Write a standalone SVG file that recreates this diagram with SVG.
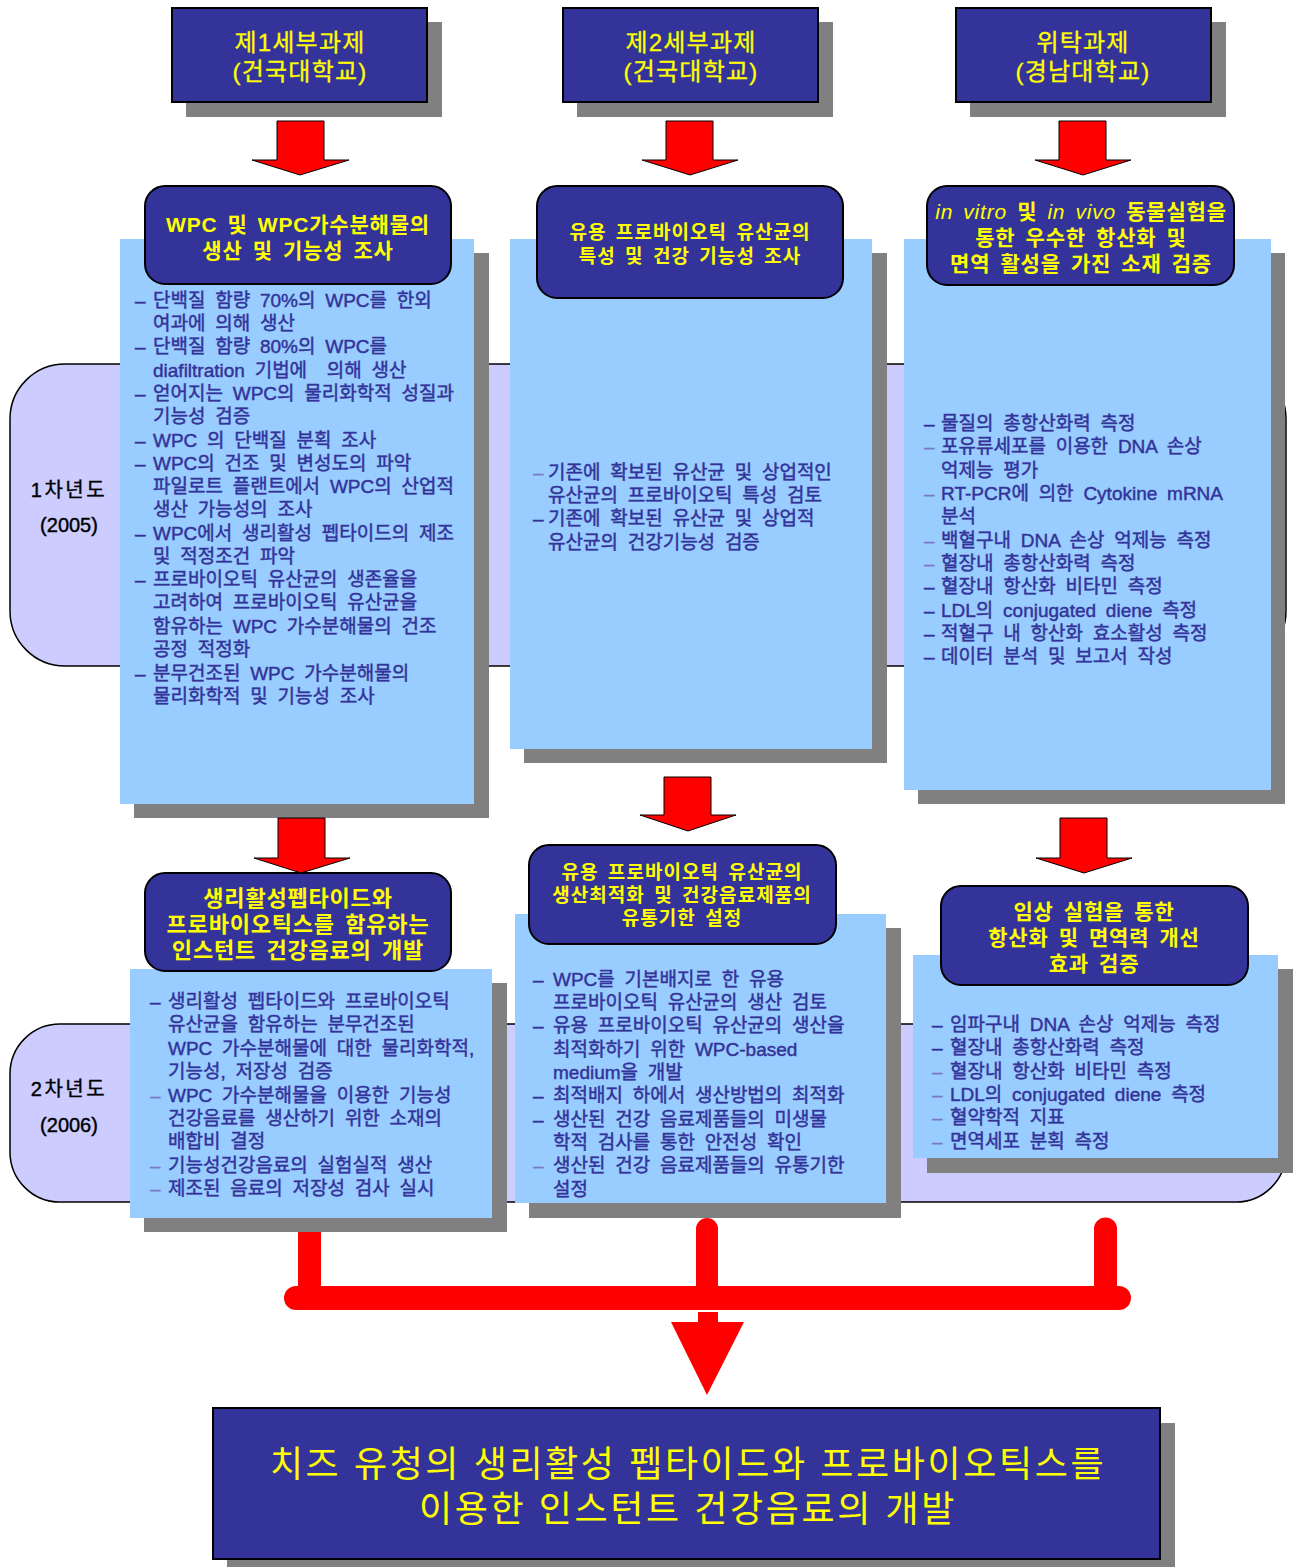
<svg xmlns="http://www.w3.org/2000/svg" width="1295" height="1568" viewBox="0 0 1295 1568">
<style>
text { font-family: "Liberation Sans", "Noto Sans CJK KR", sans-serif; }
.bg { fill: #FFFFFF; }
.band { fill: #CCCCFF; stroke: #000; stroke-width: 1.5; }
.sh { fill: #808080; }
.lb { fill: #99CCFF; }
.hdr { fill: #333399; stroke: #000; stroke-width: 2; }
.rb { fill: #333399; stroke: #000; stroke-width: 2; }
.arr { fill: #FF0000; stroke: #000; stroke-width: 1; }
.red { fill: #FF0000; }
.yt { fill: #FFFF00; text-anchor: middle; }
.h23 { font-size: 24px; letter-spacing: 1.2px; stroke: #FFFF00; stroke-width: 0.3; }
.s21 { font-size: 21px; font-weight: bold; letter-spacing: 0.8px; word-spacing: 3.5px; }
.s22 { font-size: 22px; }
.s19 { font-size: 19px; font-weight: bold; letter-spacing: 1.05px; word-spacing: 3px; }
.ct { fill: #333399; font-size: 19px; word-spacing: 4.5px; stroke: #333399; stroke-width: 0.45; }
.ld { fill: #7a7ac4; stroke: #7a7ac4; stroke-width: 0.2; }
.yr { fill: #000; font-size: 20px; text-anchor: middle; stroke: #000; stroke-width: 0.4; }
.yk { letter-spacing: 2.5px; }
.fin { font-size: 36px; letter-spacing: 2.6px; }
</style>
<rect class="bg" x="0" y="0" width="1295" height="1568"/>

<g id="year1">
  <rect class="band" x="10" y="364" width="1276" height="302" rx="55" ry="55"/>
  <text class="yr yk" x="69" y="497">1차년도</text>
  <text class="yr" x="69" y="532">(2005)</text>
</g>
<g id="year2">
  <rect class="band" x="10" y="1024" width="1276" height="178" rx="50" ry="50"/>
  <text class="yr yk" x="69" y="1096">2차년도</text>
  <text class="yr" x="69" y="1132">(2006)</text>
</g>

<g id="hdr1">
  <rect class="sh" x="186" y="22" width="256" height="95"/>
  <rect class="hdr" x="172" y="8" width="255" height="94"/>
  <text class="yt h23" x="300" y="51">제1세부과제</text>
  <text class="yt h23" x="300" y="80">(건국대학교)</text>
</g>
<g id="hdr2">
  <rect class="sh" x="577" y="22" width="256" height="95"/>
  <rect class="hdr" x="563" y="8" width="255" height="94"/>
  <text class="yt h23" x="691" y="51">제2세부과제</text>
  <text class="yt h23" x="691" y="80">(건국대학교)</text>
</g>
<g id="hdr3">
  <rect class="sh" x="970" y="22" width="256" height="95"/>
  <rect class="hdr" x="956" y="8" width="255" height="94"/>
  <text class="yt h23" x="1083" y="51">위탁과제</text>
  <text class="yt h23" x="1083" y="80">(경남대학교)</text>
</g>

<g id="task1-y1">
  <rect class="sh" x="134" y="253" width="355" height="565"/>
  <rect class="lb" x="120" y="239" width="354" height="565"/>
  <rect class="rb" x="145" y="186" width="306" height="98" rx="20" ry="20"/>
  <text class="yt s21" x="298" y="232">WPC 및 WPC가수분해물의</text>
  <text class="yt s21" x="298" y="258">생산 및 기능성 조사</text>
  <g class="ct">
    <text x="135" y="307">–</text><text x="153" y="307">단백질 함량 70%의 WPC를 한외</text>
    <text x="153" y="330">여과에 의해 생산</text>
    <text x="135" y="353">–</text><text x="153" y="353">단백질 함량 80%의 WPC를</text>
    <text x="153" y="377" xml:space="preserve">diafiltration 기법에  의해 생산</text>
    <text x="135" y="400">–</text><text x="153" y="400">얻어지는 WPC의 물리화학적 성질과</text>
    <text x="153" y="423">기능성 검증</text>
    <text x="135" y="447">–</text><text x="153" y="447">WPC 의 단백질 분획 조사</text>
    <text x="135" y="470">–</text><text x="153" y="470">WPC의 건조 및 변성도의 파악</text>
    <text x="153" y="493">파일로트 플랜트에서 WPC의 산업적</text>
    <text x="153" y="516">생산 가능성의 조사</text>
    <text x="135" y="540">–</text><text x="153" y="540">WPC에서 생리활성 펩타이드의 제조</text>
    <text x="153" y="563">및 적정조건 파악</text>
    <text x="135" y="586">–</text><text x="153" y="586">프로바이오틱 유산균의 생존율을</text>
    <text x="153" y="609">고려하여 프로바이오틱 유산균을</text>
    <text x="153" y="633">함유하는 WPC 가수분해물의 건조</text>
    <text x="153" y="656">공정 적정화</text>
    <text x="135" y="680">–</text><text x="153" y="680">분무건조된 WPC 가수분해물의</text>
    <text x="153" y="703">물리화학적 및 기능성 조사</text>
  </g>
</g>

<g id="task2-y1">
  <rect class="sh" x="524" y="253" width="363" height="510"/>
  <rect class="lb" x="510" y="239" width="362" height="510"/>
  <rect class="rb" x="537" y="186" width="306" height="112" rx="20" ry="20"/>
  <text class="yt s19" x="690" y="239">유용 프로바이오틱 유산균의</text>
  <text class="yt s19" x="690" y="263">특성 및 건강 기능성 조사</text>
  <g class="ct">
    <text class="ld" x="533" y="479">–</text><text x="548" y="479">기존에 확보된 유산균 및 상업적인</text>
    <text x="548" y="502">유산균의 프로바이오틱 특성 검토</text>
    <text x="533" y="525">–</text><text x="548" y="525">기존에 확보된 유산균 및 상업적</text>
    <text x="548" y="549">유산균의 건강기능성 검증</text>
  </g>
</g>

<g id="task3-y1">
  <rect class="sh" x="918" y="253" width="367" height="551"/>
  <rect class="lb" x="904" y="239" width="367" height="551"/>
  <rect class="rb" x="927" y="186" width="307" height="99" rx="20" ry="20"/>
  <text class="yt s21" x="1081" y="219"><tspan font-style="italic" font-weight="normal">in vitro</tspan> 및  <tspan font-style="italic" font-weight="normal">in vivo</tspan> 동물실험을</text>
  <text class="yt s21" x="1081" y="245">통한 우수한 항산화 및</text>
  <text class="yt s21" x="1081" y="271">면역 활성을 가진 소재 검증</text>
  <g class="ct">
    <text x="924" y="430">–</text><text x="941" y="430">물질의 총항산화력 측정</text>
    <text class="ld" x="924" y="453">–</text><text x="941" y="453">포유류세포를 이용한 DNA 손상</text>
    <text x="941" y="477">억제능 평가</text>
    <text class="ld" x="924" y="500">–</text><text x="941" y="500">RT-PCR에 의한 Cytokine mRNA</text>
    <text x="941" y="523">분석</text>
    <text class="ld" x="924" y="547">–</text><text x="941" y="547">백혈구내 DNA 손상 억제능 측정</text>
    <text class="ld" x="924" y="570">–</text><text x="941" y="570">혈장내 총항산화력 측정</text>
    <text x="924" y="593">–</text><text x="941" y="593">혈장내 항산화 비타민 측정</text>
    <text x="924" y="617">–</text><text x="941" y="617">LDL의 conjugated diene 측정</text>
    <text x="924" y="640">–</text><text x="941" y="640">적혈구 내 항산화 효소활성 측정</text>
    <text x="924" y="663">–</text><text x="941" y="663">데이터 분석 및 보고서 작성</text>
  </g>
</g>

<g id="task1-y2">
  <rect class="sh" x="144" y="983" width="363" height="249"/>
  <rect class="lb" x="130" y="969" width="362" height="249"/>
  <rect class="rb" x="145" y="873" width="306" height="98" rx="20" ry="20"/>
  <text class="yt s21 s22" x="298" y="906">생리활성펩타이드와</text>
  <text class="yt s21 s22" x="298" y="932">프로바이오틱스를 함유하는</text>
  <text class="yt s21 s22" x="298" y="958">인스턴트 건강음료의 개발</text>
  <g class="ct">
    <text x="150" y="1008">–</text><text x="168" y="1008">생리활성 펩타이드와 프로바이오틱</text>
    <text x="168" y="1031">유산균을 함유하는 분무건조된</text>
    <text x="168" y="1055">WPC 가수분해물에 대한 물리화학적,</text>
    <text x="168" y="1078">기능성, 저장성 검증</text>
    <text class="ld" x="150" y="1102">–</text><text x="168" y="1102">WPC 가수분해물을 이용한 기능성</text>
    <text x="168" y="1125">건강음료를 생산하기 위한 소재의</text>
    <text x="168" y="1148">배합비 결정</text>
    <text class="ld" x="150" y="1172">–</text><text x="168" y="1172">기능성건강음료의 실험실적 생산</text>
    <text class="ld" x="150" y="1195">–</text><text x="168" y="1195">제조된 음료의 저장성 검사 실시</text>
  </g>
</g>

<g id="task2-y2">
  <rect class="sh" x="529" y="928" width="372" height="290"/>
  <rect class="lb" x="515" y="914" width="371" height="289"/>
  <rect class="rb" x="529" y="845" width="307" height="99" rx="20" ry="20"/>
  <text class="yt s19" x="682" y="879">유용 프로바이오틱 유산균의</text>
  <text class="yt s19" x="682" y="902">생산최적화 및 건강음료제품의</text>
  <text class="yt s19" x="682" y="925">유통기한 설정</text>
  <g class="ct">
    <text x="533" y="986">–</text><text x="553" y="986">WPC를 기본배지로 한 유용</text>
    <text x="553" y="1009">프로바이오틱 유산균의 생산 검토</text>
    <text x="533" y="1032">–</text><text x="553" y="1032">유용 프로바이오틱 유산균의 생산을</text>
    <text x="553" y="1056">최적화하기 위한 WPC-based</text>
    <text x="553" y="1079">medium을 개발</text>
    <text x="533" y="1102">–</text><text x="553" y="1102">최적배지 하에서 생산방법의 최적화</text>
    <text x="533" y="1126">–</text><text x="553" y="1126">생산된 건강 음료제품들의 미생물</text>
    <text x="553" y="1149">학적 검사를 통한 안전성 확인</text>
    <text class="ld" x="533" y="1172">–</text><text x="553" y="1172">생산된 건강 음료제품들의 유통기한</text>
    <text x="553" y="1196">설정</text>
  </g>
</g>

<g id="task3-y2">
  <rect class="sh" x="927" y="969" width="366" height="204"/>
  <rect class="lb" x="913" y="955" width="365" height="203"/>
  <rect class="rb" x="941" y="886" width="307" height="99" rx="20" ry="20"/>
  <text class="yt s21" x="1094" y="919">임상 실험을 통한</text>
  <text class="yt s21" x="1094" y="945">항산화 및 면역력 개선</text>
  <text class="yt s21" x="1094" y="971">효과 검증</text>
  <g class="ct">
    <text x="932" y="1031">–</text><text x="950" y="1031">임파구내 DNA 손상 억제능 측정</text>
    <text x="932" y="1054">–</text><text x="950" y="1054">혈장내 총항산화력 측정</text>
    <text class="ld" x="932" y="1078">–</text><text x="950" y="1078">혈장내 항산화 비타민 측정</text>
    <text class="ld" x="932" y="1101">–</text><text x="950" y="1101">LDL의 conjugated diene 측정</text>
    <text class="ld" x="932" y="1124">–</text><text x="950" y="1124">혈약학적 지표</text>
    <text class="ld" x="932" y="1148">–</text><text x="950" y="1148">면역세포 분획 측정</text>
  </g>
</g>

<g id="final">
  <rect class="sh" x="227" y="1423" width="948" height="144"/>
  <rect class="hdr" x="213" y="1408" width="947" height="151"/>
  <text class="yt fin" x="688" y="1477">치즈 유청의 생리활성 펩타이드와 프로바이오틱스를</text>
  <text class="yt fin" x="688" y="1522">이용한 인스턴트 건강음료의 개발</text>
</g>

<g id="connectors">
  <polygon class="arr" points="277,121 324,121 324,160 349,160 300,175 252,160 277,160"/>
  <polygon class="arr" points="666,121 713,121 713,160 738,160 690,175 642,160 666,160"/>
  <polygon class="arr" points="1059,121 1106,121 1106,160 1131,160 1083,175 1035,160 1059,160"/>
  <polygon class="arr" points="278,818 325,818 325,858 350,858 301,873 254,858 278,858"/>
  <polygon class="arr" points="664,777 711,777 711,815 736,815 688,831 640,815 664,815"/>
  <polygon class="arr" points="1060,818 1107,818 1107,858 1132,858 1084,873 1036,858 1060,858"/>
  <rect class="red" x="298" y="1232" width="23" height="70"/>
  <path class="red" d="M696,1300 V1229 A11,11 0 0 1 718,1229 V1300 Z"/>
  <path class="red" d="M1094,1300 V1229 A11.5,11.5 0 0 1 1117,1229 V1300 Z"/>
  <rect class="red" x="284" y="1286" width="847" height="24" rx="12" ry="12"/>
  <rect class="red" x="698" y="1312" width="20" height="12"/>
  <polygon class="red" points="671,1322 744,1322 707,1395"/>
</g>
</svg>
